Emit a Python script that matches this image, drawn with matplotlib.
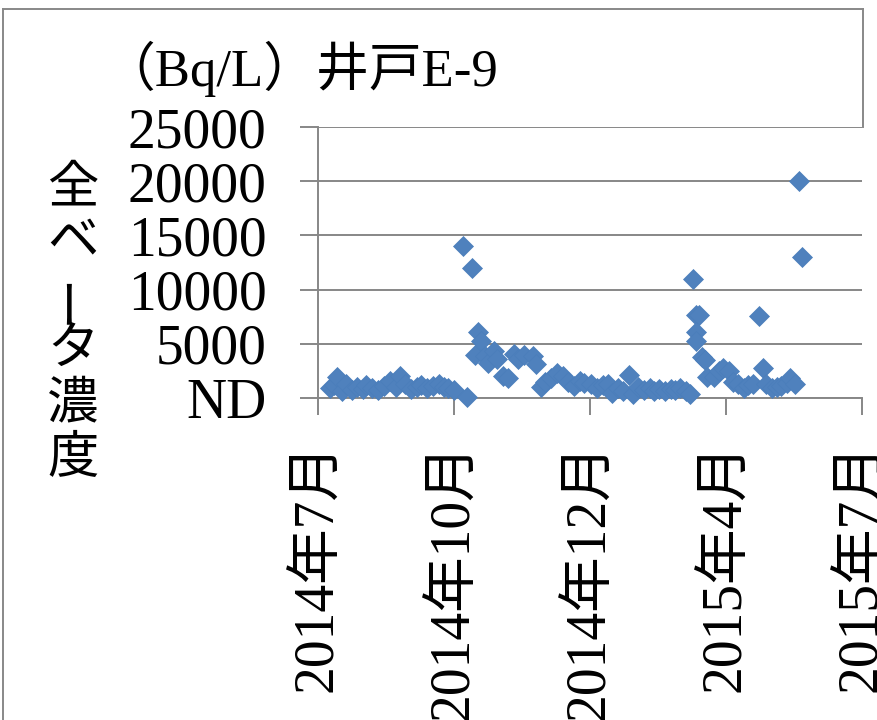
import matplotlib
matplotlib.use("Agg")
import matplotlib.pyplot as plt
import matplotlib.dates as mdates
from matplotlib.lines import Line2D
import numpy as np
import pandas as pd

plt.rcParams['font.family'] = ['Liberation Serif', 'Noto Sans CJK JP', 'DejaVu Sans']

# ---- data ----
dates = [
    "2014-07-10", "2014-07-13", "2014-07-15", "2014-07-18", "2014-07-21", "2014-07-25",
    "2014-07-28", "2014-08-01", "2014-08-03", "2014-08-07", "2014-08-11", "2014-08-15",
    "2014-08-19", "2014-08-23", "2014-08-26", "2014-08-29", "2014-09-02", "2014-09-06",
    "2014-09-09", "2014-09-13", "2014-09-17", "2014-09-21", "2014-09-24", "2014-09-27",
    "2014-10-01", "2014-10-07", "2014-10-10", "2014-10-13", "2014-10-15", "2014-10-17",
    "2014-10-19", "2014-10-22", "2014-10-24", "2014-10-28", "2014-10-30", "2014-11-03",
    "2014-11-06", "2014-11-10", "2014-11-13", "2014-11-17", "2014-11-23", "2014-11-25",
    "2014-11-28", "2014-12-01", "2014-12-05", "2014-12-09", "2014-12-13", "2014-12-16",
    "2014-12-20", "2014-12-24", "2014-12-27", "2015-01-01", "2015-01-05", "2015-01-09",
    "2015-01-12", "2015-01-15", "2015-01-19", "2015-01-22", "2015-01-26", "2015-01-29",
    "2015-02-01", "2015-02-05", "2015-02-09", "2015-02-12", "2015-02-15", "2015-02-19",
    "2015-02-23", "2015-02-26", "2015-03-01", "2015-03-05", "2015-03-08", "2015-03-10",
    "2015-03-12", "2015-03-14", "2015-03-12", "2015-03-12", "2015-03-16", "2015-03-18",
    "2015-03-19", "2015-03-24", "2015-03-27", "2015-03-30", "2015-04-03", "2015-04-06",
    "2015-04-09", "2015-04-13", "2015-04-16", "2015-04-19", "2015-04-23", "2015-04-26",
    "2015-04-28", "2015-05-02", "2015-05-05", "2015-05-08", "2015-05-12", "2015-05-14",
    "2015-05-17", "2015-05-20", "2015-05-22",
]
values = [
    900, 1200, 1900, 600, 1300, 700,
    1000, 800, 1200, 900, 700, 1100,
    1600, 1000, 2000, 1300, 800, 1000,
    1200, 900, 1100, 1300, 1000, 900,
    700, 14000, 100, 12000, 4000, 6100,
    5300, 3900, 3200, 4300, 3600, 2000,
    1800, 4100, 3600, 4000, 3900, 3100,
    1000, 1500, 1800, 2300, 2000, 1500,
    1100, 1600, 1400, 1300, 900, 1200,
    1300, 500, 900, 600, 2100, 400,
    1000, 700, 900, 600, 800, 600,
    800, 700, 900, 600, 400, 11000,
    7700, 7700, 6100, 5300, 3800, 3500,
    1900, 1900, 2500, 2800, 2500, 1500,
    1300, 900, 1200, 1300, 7600, 2800,
    1300, 900, 1000, 1100, 1400, 1800,
    1300, 20000, 13000,
]
x_ticks = ["2014-07-02", "2014-10-01", "2014-12-31", "2015-04-01", "2015-07-01"]
x_tick_labels = ["2014年7月", "2014年10月", "2014年12月", "2015年4月", "2015年7月"]
y_ticks = [0, 5000, 10000, 15000, 20000, 25000]
y_tick_labels = ["ND", "5000", "10000", "15000", "20000", "25000"]
title = "（Bq/L）井戸E-9"
ylabel_chars = ["全", "ベ", "ー", "タ", "濃", "度"]

# ---- figure ----
W, H = 878, 720
fig = plt.figure(figsize=(W / 100, H / 100), dpi=100)
fig.patch.set_facecolor('white')

ax = fig.add_axes([318 / W, 1 - 398 / H, (862 - 318) / W, (398 - 127) / H])

dts = pd.to_datetime(dates)
ax.plot(dts, values, linestyle='none', marker='D', markersize=10,
        color='#4F81BD', markeredgecolor='#4A7EBB', markeredgewidth=0.5,
        zorder=3, clip_on=False)

ax.set_xlim(pd.Timestamp(x_ticks[0]), pd.Timestamp(x_ticks[-1]))
ax.set_ylim(y_ticks[0], y_ticks[-1])

ax.set_xticks(pd.to_datetime(x_ticks))
ax.set_xticklabels(x_tick_labels, rotation=90, fontsize=40, ha='center', va='top')
ax.set_yticks(y_ticks)
ax.set_yticklabels(y_tick_labels, fontsize=40)

grid_c = '#878787'
ax.yaxis.grid(True, color=grid_c, linewidth=1.4)
ax.xaxis.grid(False)
ax.set_axisbelow(True)
for side in ['top', 'right']:
    ax.spines[side].set_visible(False)
ax.spines['left'].set_color(grid_c)
ax.spines['left'].set_linewidth(1.4)
ax.spines['bottom'].set_color(grid_c)
ax.spines['bottom'].set_linewidth(1.4)
ax.tick_params(axis='x', length=12, width=1.4, color=grid_c, pad=20)
ax.tick_params(axis='y', length=13, width=1.4, color=grid_c, pad=24)

# title
fig.text(102 / W, 1 - 86 / H, title, fontsize=38, ha='left', va='baseline')

# vertical y-axis label (stacked characters)
y0 = 190
pitch = 54
for i, ch in enumerate(ylabel_chars):
    rot = 90 if ch == "ー" else 0
    fig.text(73 / W, 1 - (y0 + i * pitch) / H, ch, fontsize=37,
             ha='center', va='center', rotation=rot)

# chart area border
bc = '#888888'
fig.add_artist(Line2D([3 / W, 3 / W], [0, 1 - 9 / H], color=bc, linewidth=1.4,
                      transform=fig.transFigure))
fig.add_artist(Line2D([3 / W, 863 / W], [1 - 9 / H, 1 - 9 / H], color=bc, linewidth=1.4,
                      transform=fig.transFigure))
fig.add_artist(Line2D([863 / W, 863 / W], [1 - 127 / H, 1 - 9 / H], color=bc, linewidth=1.4,
                      transform=fig.transFigure))

fig.savefig("out.png", dpi=100)
